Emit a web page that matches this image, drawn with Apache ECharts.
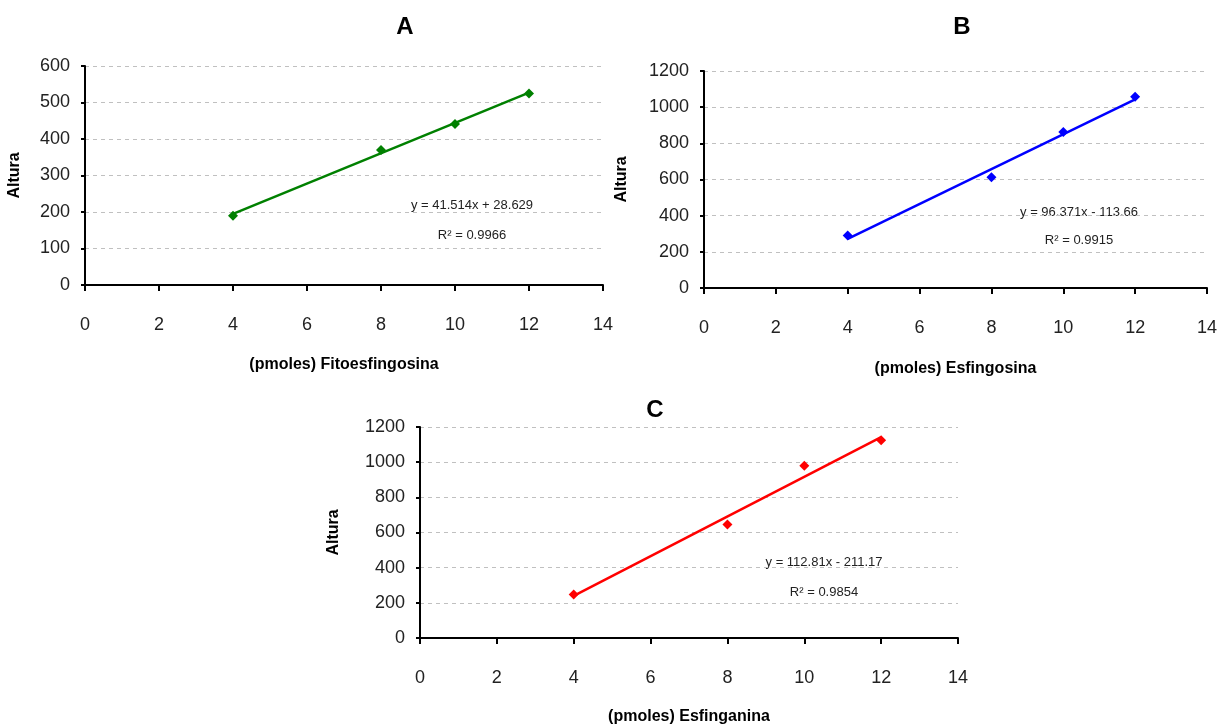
<!DOCTYPE html>
<html>
<head>
<meta charset="utf-8">
<script src="https://cdn.jsdelivr.net/npm/echarts@6/dist/echarts.min.js"></script>
<style>
html,body{margin:0;padding:0;background:#fff;}
#chart{width:1227px;height:728px;}
</style>
</head>
<body>
<div id="chart"></div>
<script>
// ---- data ----
const panelTitles = ['A', 'B', 'C'];
const xNames = ['(pmoles) Fitoesfingosina', '(pmoles) Esfingosina', '(pmoles) Esfinganina'];
const yName = 'Altura';
const pmoles = [4, 8, 10, 12];
const alturaA = [190, 370, 441, 525];
const alturaB = [290, 612, 862, 1058];
const alturaC = [248, 645, 980, 1124];
const trendX = [4, 12];
const trendA = [194.7, 526.8];
const trendB = [271.8, 1042.8];
const trendC = [240.1, 1142.6];
const equations = ['y = 41.514x + 28.629', 'y = 96.371x - 113.66', 'y = 112.81x - 211.17'];
const r2 = ['R\u00B2 = 0.9966', 'R\u00B2 = 0.9915', 'R\u00B2 = 0.9854'];
const yMax = [600, 1200, 1200];
const yStep = [100, 200, 200];
const xMax = 14, xStep = 2;
const colors = ['#008000', '#0000ff', '#ff0000'];

const pts = [alturaA, alturaB, alturaC];
const trends = [trendA, trendB, trendC];

// ---- layout ----
const grids = [
  {left: 85, top: 66, width: 518, height: 219},
  {left: 704, top: 71, width: 503, height: 217},
  {left: 420, top: 427, width: 538, height: 211}
];
const yNameGap = [62, 74, 78];
const xNameGap = [72, 73, 71];
const titlePos = [[405, 27], [962, 27], [655, 410]];
const eqPos = [[472, 205, 235], [1079, 212, 240], [824, 562, 592]];

const tickFont = "'Liberation Sans', Arial, sans-serif";
const textFont = "'Liberation Sans', Arial, sans-serif";

const xAxis = [], yAxis = [], series = [], graphic = [];
for (let i = 0; i < 3; i++) {
  xAxis.push({
    type: 'value', gridIndex: i, min: 0, max: xMax, interval: xStep,
    name: xNames[i], nameLocation: 'middle', nameGap: xNameGap[i],
    nameTextStyle: {fontFamily: textFont, fontWeight: 'bold', fontSize: 16, color: '#000'},
    axisLine: {show: true, onZero: false, lineStyle: {color: '#000', width: 2}},
    axisTick: {show: true, inside: false, length: 6, lineStyle: {color: '#000', width: 2}},
    axisLabel: {fontFamily: tickFont, fontSize: 18, color: '#222', margin: 31, formatter: v => String(v)},
    splitLine: {show: false}
  });
  yAxis.push({
    type: 'value', gridIndex: i, min: 0, max: yMax[i], interval: yStep[i],
    name: yName, nameLocation: 'middle', nameGap: yNameGap[i], nameRotate: 90,
    nameTextStyle: {fontFamily: textFont, fontWeight: 'bold', fontSize: 16, color: '#000'},
    axisLine: {show: true, onZero: false, lineStyle: {color: '#000', width: 2}},
    axisTick: {show: true, inside: false, length: 4, lineStyle: {color: '#000', width: 2}},
    axisLabel: {fontFamily: tickFont, fontSize: 18, color: '#222', margin: 15, formatter: v => String(v)},
    splitLine: {show: true, lineStyle: {color: '#c0c0c0', type: [4, 4], width: 1}}
  });
  series.push({
    type: 'line', xAxisIndex: i, yAxisIndex: i,
    data: trendX.map((x, k) => [x, trends[i][k]]),
    showSymbol: false, symbol: 'none',
    lineStyle: {color: colors[i], width: 2.5},
    silent: true, z: 2, animation: false
  });
  series.push({
    type: 'scatter', xAxisIndex: i, yAxisIndex: i,
    data: pmoles.map((x, k) => [x, pts[i][k]]),
    symbol: 'diamond', symbolSize: 10,
    itemStyle: {color: colors[i], opacity: 1}, z: 3, animation: false
  });
  graphic.push({
    type: 'text', x: titlePos[i][0], y: titlePos[i][1],
    style: {text: panelTitles[i], font: "bold 24px 'Liberation Sans', Arial, sans-serif", fill: '#000', align: 'center', verticalAlign: 'middle'}
  });
  graphic.push({
    type: 'text', x: eqPos[i][0], y: eqPos[i][1],
    style: {text: equations[i], font: "13px " + textFont, fill: '#222', align: 'center', verticalAlign: 'middle'}
  });
  graphic.push({
    type: 'text', x: eqPos[i][0], y: eqPos[i][2],
    style: {text: r2[i], font: "13px " + textFont, fill: '#222', align: 'center', verticalAlign: 'middle'}
  });
}

const chart = echarts.init(document.getElementById('chart'), null, {renderer: 'canvas'});
chart.setOption({
  backgroundColor: '#fff',
  animation: false,
  grid: grids.map(g => Object.assign({containLabel: false}, g)),
  xAxis, yAxis, series, graphic
});
</script>
</body>
</html>
